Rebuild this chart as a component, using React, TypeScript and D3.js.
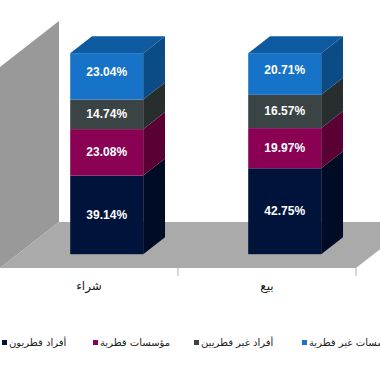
import * as d3 from 'd3';

const categories = ['شراء', 'بيع'];
const seriesNames = ['أفراد قطريون', 'مؤسسات قطرية', 'أفراد غير قطريين', 'مؤسسات غير قطرية'];
const qatariIndividuals = [39.14, 42.75];
const qatariInstitutions = [23.08, 19.97];
const nonQatariIndividuals = [14.74, 16.57];
const nonQatariInstitutions = [23.04, 20.71];

const seriesValues = [qatariIndividuals, qatariInstitutions, nonQatariIndividuals, nonQatariInstitutions];
const frontColors = ['#00133a', '#8a0052', '#3b4444', '#1673c8'];
const sideColors = ['#000b26', '#5a0035', '#282d2d', '#0c4c86'];
const topColor = '#0d5aa0';

const W = 380;
const H = 372;
const floorFront = 268;
const axisLeft = 0;
const axisRight = 356;
const depth = { x: 59, y: -46 };
const barFront = 0.3;
const barBack = 0.67;
const plotHeight = 201;

export default function App() {
  const x = d3.scaleBand<string>()
    .domain(categories)
    .range([axisLeft, axisRight])
    .paddingInner(0.59)
    .paddingOuter(0.295);
  const y = d3.scaleLinear().domain([0, 100]).range([0, plotHeight]);

  const rows = categories.map((c, i) => {
    const r: Record<string, any> = { cat: c };
    seriesNames.forEach((s, j) => { r[s] = seriesValues[j][i]; });
    return r;
  });
  const stacked = d3.stack<any>().keys(seriesNames)(rows);

  const fx = barFront * depth.x;
  const fy = floorFront + barFront * depth.y;
  const bdx = (barBack - barFront) * depth.x;
  const bdy = (barBack - barFront) * depth.y;
  const bw = x.bandwidth();

  const pts = (p: number[][]) => p.map(q => q.join(',')).join(' ');

  const wall = pts([
    [axisLeft, floorFront],
    [axisLeft + depth.x, floorFront + depth.y],
    [axisLeft + depth.x, floorFront + depth.y - y(100)],
    [axisLeft, floorFront - y(100)],
  ]);
  const floor = pts([
    [axisLeft, floorFront],
    [axisRight, floorFront],
    [axisRight + depth.x, floorFront + depth.y],
    [axisLeft + depth.x, floorFront + depth.y],
  ]);

  const legendX = [2, 93, 194, 302];

  return (
    <svg width={W} height={H} style={{ position: 'absolute', left: 0, top: 0, background: '#fff' }}>
      <polygon points={wall} fill="#999999" />
      <polygon points={floor} fill="#aaaaaa" />
      {[(axisLeft + axisRight) / 2, axisRight].map((t, i) => (
        <line key={i} x1={t} x2={t} y1={floorFront} y2={floorFront + 8} stroke="#b0b0b0" strokeWidth={1} />
      ))}
      {stacked.map((s, si) =>
        s.map((d, ci) => {
          const cat = categories[ci];
          const x0 = (x(cat) || 0) + fx;
          const x1 = x0 + bw;
          const yb = fy - y(d[0]);
          const yt = fy - y(d[1]);
          const isTop = si === stacked.length - 1;
          return (
            <g key={`${si}-${ci}`}>
              <rect x={x0} y={yt} width={bw} height={yb - yt} fill={frontColors[si]} />
              <polygon
                points={pts([[x1, yb], [x1 + bdx, yb + bdy], [x1 + bdx, yt + bdy], [x1, yt]])}
                fill={sideColors[si]}
              />
              {isTop && (
                <polygon
                  points={pts([[x0, yt], [x1, yt], [x1 + bdx, yt + bdy], [x0 + bdx, yt + bdy]])}
                  fill={topColor}
                />
              )}
              <text
                x={x0 + bw / 2}
                y={(yb + yt) / 2 + (isTop ? 0 : 4)}
                textAnchor="middle"
                fill="#fff"
                fontFamily="Liberation Sans, Arial, sans-serif"
                fontWeight="bold"
                fontSize={12}
              >
                {(d[1] - d[0]).toFixed(2)}%
              </text>
            </g>
          );
        })
      )}
      {categories.map(c => (
        <text
          key={c}
          x={(x(c) || 0) + bw / 2}
          y={290}
          textAnchor="middle"
          fontFamily="DejaVu Sans, sans-serif"
          fontSize={12}
          fill="#222"
        >
          {c}
        </text>
      ))}
      {seriesNames.map((s, i) => (
        <g key={s}>
          <rect x={legendX[i]} y={340} width={5} height={5} fill={frontColors[i]} />
          <text
            x={legendX[i] + 7}
            y={346}
            fontFamily="DejaVu Sans, sans-serif"
            fontSize={10}
            fill="#222"
          >
            {s}
          </text>
        </g>
      ))}
    </svg>
  );
}
